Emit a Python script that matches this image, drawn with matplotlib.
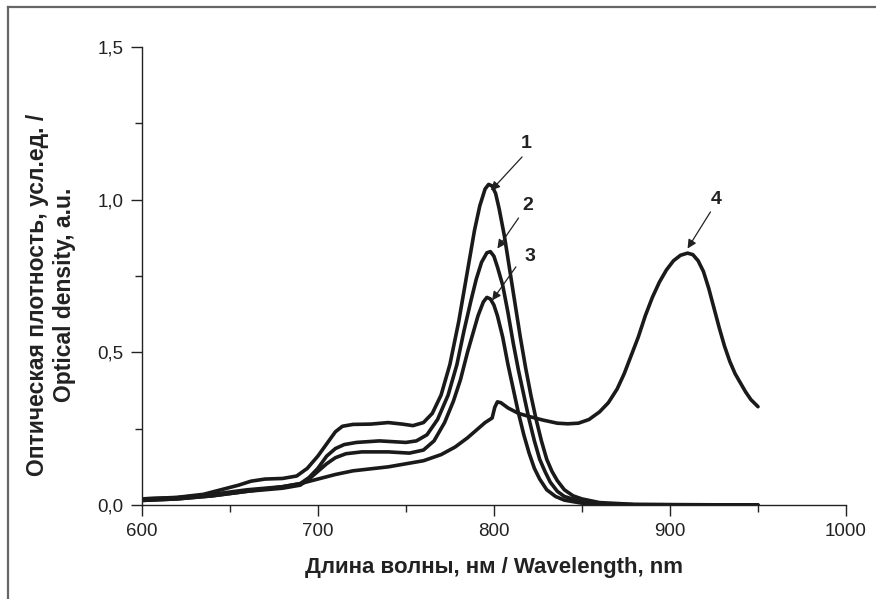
import matplotlib.pyplot as plt
from matplotlib.lines import Line2D
from matplotlib.ticker import MultipleLocator

plt.rcParams['font.family'] = ['Liberation Sans', 'DejaVu Sans']

# Кривые 1-3 (длина волны, нм / оптическая плотность)
wl_1 = [600, 620, 635, 645, 655, 662, 670, 680, 688, 694, 700, 705, 710, 714, 720, 730, 740, 748, 754,
        760, 765, 770, 775, 780, 783, 786, 789, 792, 795, 797, 799, 801, 803, 806, 809, 812, 815, 818,
        821, 824, 827, 830, 833, 836, 840, 845, 850, 860, 880, 950]
od_1 = [0.02, 0.025, 0.035, 0.05, 0.065, 0.078, 0.085, 0.087, 0.095, 0.12, 0.16, 0.2, 0.24, 0.258, 0.264, 0.265, 0.27, 0.265, 0.26,
        0.27, 0.3, 0.36, 0.46, 0.6, 0.7, 0.8, 0.9, 0.98, 1.035, 1.05, 1.045, 1.02, 0.97, 0.88, 0.77, 0.66, 0.55, 0.45,
        0.36, 0.28, 0.21, 0.15, 0.11, 0.08, 0.05, 0.03, 0.02, 0.008, 0.002, 0.0]

wl_2 = [600, 620, 640, 660, 680, 690, 695, 700, 705, 710, 715, 722, 735, 750, 756, 762, 768, 774, 779,
        783, 787, 790, 793, 796, 798, 800, 802, 805, 808, 811, 814, 817, 820, 823, 826, 829, 832, 836,
        840, 850, 860, 880, 950]
od_2 = [0.02, 0.024, 0.035, 0.05, 0.06, 0.07, 0.09, 0.12, 0.16, 0.185, 0.198, 0.205, 0.21, 0.205, 0.21, 0.23, 0.28, 0.36, 0.46,
        0.57, 0.67, 0.74, 0.795, 0.826, 0.83, 0.815, 0.78, 0.72, 0.63, 0.53, 0.44, 0.36, 0.28, 0.21, 0.15, 0.11, 0.075, 0.045,
        0.028, 0.01, 0.004, 0.001, 0.0]

wl_3 = [600, 620, 640, 660, 680, 690, 695, 700, 705, 710, 716, 725, 740, 752, 760, 766, 772, 777, 781,
        785, 788, 791, 794, 796, 798, 800, 802, 805, 808, 811, 814, 817, 820, 823, 826, 830, 835, 840,
        850, 860, 880, 950]
od_3 = [0.015, 0.02, 0.03, 0.045, 0.055, 0.065, 0.085, 0.11, 0.135, 0.155, 0.168, 0.174, 0.174, 0.17, 0.18, 0.21, 0.27, 0.34, 0.41,
        0.5, 0.56, 0.62, 0.665, 0.68, 0.675, 0.655, 0.62, 0.55, 0.46, 0.38, 0.3, 0.23, 0.17, 0.12, 0.085, 0.05, 0.028, 0.016,
        0.006, 0.002, 0.001, 0.0]

# Кривая 4
wl_4 = [600, 620, 640, 660, 680, 690, 700, 710, 720, 740, 760, 770, 778, 785, 790, 795, 799, 800.5, 802,
        804, 808, 814, 820, 828, 836, 842, 848, 854, 860, 865, 870, 874, 878, 882, 886, 890, 894, 898,
        902, 906, 910, 913, 916, 919, 922, 925, 928, 931, 934, 937, 940, 943, 946, 950]
od_4 = [0.015, 0.02, 0.03, 0.045, 0.06, 0.07, 0.085, 0.1, 0.112, 0.125, 0.145, 0.165, 0.19, 0.22, 0.245, 0.27, 0.285, 0.32, 0.338,
        0.335, 0.318, 0.3, 0.29, 0.278, 0.268, 0.266, 0.268, 0.28, 0.305, 0.335, 0.38, 0.43, 0.49, 0.55, 0.62, 0.68, 0.73, 0.77,
        0.8, 0.818, 0.825, 0.82, 0.8, 0.765, 0.71, 0.645, 0.58, 0.52, 0.47, 0.43, 0.4, 0.37, 0.345, 0.322]

x_ticks = [600, 700, 800, 900, 1000]
y_ticks = [0.0, 0.5, 1.0, 1.5]

fig = plt.figure(figsize=(8.76, 5.99), dpi=100)
ax = fig.add_axes([0.1618, 0.1569, 0.8040, 0.7646])

for wl, od in [(wl_1, od_1), (wl_2, od_2), (wl_3, od_3), (wl_4, od_4)]:
    ax.plot(wl, od, color='#1a1a1a', lw=2.6, solid_capstyle='round', solid_joinstyle='round')

ax.set_xlim(600, 1000)
ax.set_ylim(0, 1.5)
ax.set_xticks(x_ticks)
ax.set_yticks(y_ticks)
ax.xaxis.set_minor_locator(MultipleLocator(50))
ax.yaxis.set_minor_locator(MultipleLocator(0.25))
ax.set_yticklabels([f'{v:.1f}'.replace('.', ',') for v in y_ticks])

for s in ['top', 'right']:
    ax.spines[s].set_visible(False)
for s in ['left', 'bottom']:
    ax.spines[s].set_linewidth(1.0)
    ax.spines[s].set_color('#222222')
ax.tick_params(which='major', direction='out', length=8, width=1.0, labelsize=13.5, colors='#222222', pad=5)
ax.tick_params(which='minor', direction='out', length=5, width=1.0, colors='#222222')

ax.set_xlabel('Длина волны, нм / Wavelength, nm', fontsize=16, fontweight='bold', color='#222222', labelpad=12)
fig.text(0.058, 0.508, 'Оптическая плотность, усл.ед. /\nOptical density, a.u.', rotation=90,
         ha='center', va='center', multialignment='center', fontsize=16.5, fontweight='bold',
         color='#222222', linespacing=1.25)

# подписи кривых со стрелками
labels = [('1', (798.4, 1.03), (816.0, 1.14), (818.5, 1.185)),
          ('2', (802.0, 0.84), (814.0, 0.94), (819.5, 0.98)),
          ('3', (799.0, 0.67), (812.5, 0.78), (820.5, 0.815)),
          ('4', (910.0, 0.84), (923.0, 0.96), (926.5, 1.0))]
for txt, tip, start, pos in labels:
    ax.annotate('', xy=tip, xytext=start,
                arrowprops=dict(arrowstyle='-|>', color='#222222', lw=0.9, mutation_scale=13,
                                shrinkA=0, shrinkB=0))
    ax.text(pos[0], pos[1], txt, fontsize=14, fontweight='bold', ha='center', va='center', color='#222222')

# рамка рисунка
fig.add_artist(Line2D([8 / 876, 1.0], [1 - 7 / 599, 1 - 7 / 599], color='#666666', lw=1.6))
fig.add_artist(Line2D([8 / 876, 8 / 876], [0.0, 1 - 7 / 599], color='#666666', lw=1.6))

fig.savefig('out.png', dpi=100)
